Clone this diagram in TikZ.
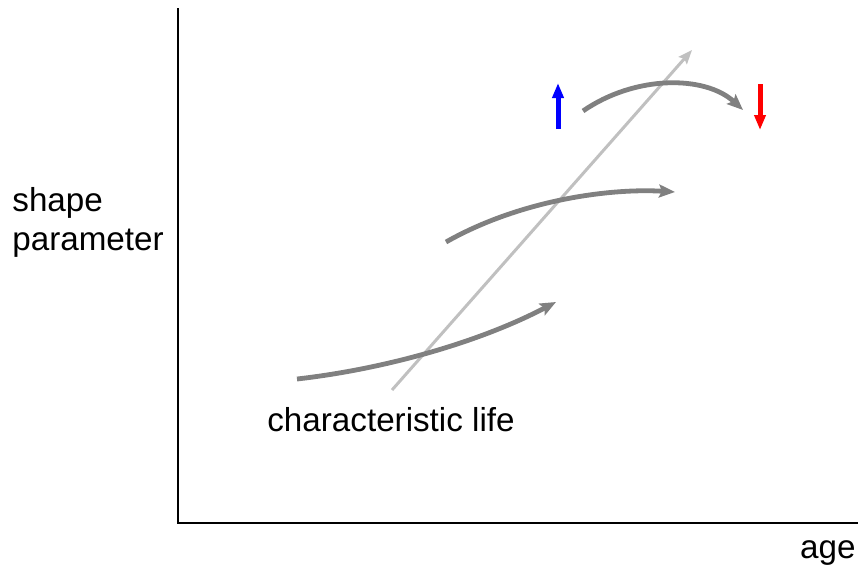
\documentclass[tikz,border=0pt]{standalone}
\usepackage{fontspec}
\setmainfont{Liberation Sans}
\usetikzlibrary{arrows.meta}
\definecolor{axisblack}{HTML}{000000}
\definecolor{darkgray}{HTML}{808080}
\definecolor{lightgray}{HTML}{C0C0C0}
\definecolor{upblue}{HTML}{0000FF}
\definecolor{downred}{HTML}{FF0000}
\tikzset{
  label/.style={font=\fontsize{16.6}{19.5}\selectfont,text=black,inner sep=0pt},
  axis/.style={draw=axisblack,line width=1.2pt},
  trend/.style={-{Stealth[length=8pt,width=6.5pt,inset=1.5pt]},draw=darkgray,line width=2.4pt},
  lifeline/.style={-{Stealth[length=7pt,width=5.5pt,inset=1.2pt]},draw=lightgray,line width=1.5pt},
  updown/.style={-{Triangle[length=7.5pt,width=5.5pt]},line width=2.5pt}
}
\begin{document}
\begin{tikzpicture}[x=0.5pt,y=-0.5pt]
\path[use as bounding box] (0,0) rectangle (861,579);
% axes
\coordinate (top) at (178,8); \coordinate (origin) at (178,523); \coordinate (right) at (858,523);
\draw[axis] (top)--(origin)--(right);
\node[label,align=left,anchor=west] (ylab) at (12,222) {shape\\parameter};
\node[label,anchor=east] (xlab) at (856,553) {age};
\node[label] (life) at (391,420) {characteristic life};
% characteristic life line
\coordinate (l0) at (392,390); \coordinate (l1) at (692,50);
\draw[lifeline] (l0)--(l1);
% shape trends
\coordinate (a0) at (297,379); \coordinate (a1) at (556,302);
\draw[trend] (a0) .. controls (385,369) and (480,342) .. (a1);
\coordinate (b0) at (446,242); \coordinate (b1) at (675,192);
\draw[trend] (b0) .. controls (520,200) and (610,188) .. (b1);
\coordinate (c0) at (583,111); \coordinate (c1) at (743,110);
\draw[trend] (c0) .. controls (635,75) and (705,75) .. (c1);
% up and down
\coordinate (u0) at (558,129); \coordinate (u1) at (558,83);
\draw[updown,draw=upblue,fill=upblue] (u0)--(u1);
\coordinate (d0) at (760,84); \coordinate (d1) at (760,130);
\draw[updown,draw=downred,fill=downred] (d0)--(d1);
\end{tikzpicture}
\end{document}
